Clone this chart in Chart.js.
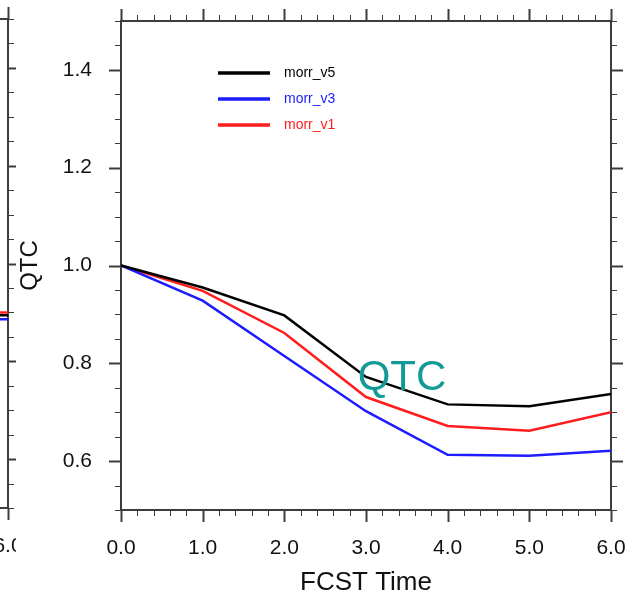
<!DOCTYPE html>
<html><head><meta charset="utf-8">
<script src="https://cdn.jsdelivr.net/npm/chart.js@4"></script>
<style>
html,body{margin:0;padding:0;background:#fff;overflow:hidden;width:638px;height:599px;position:relative;}
canvas{position:absolute;}
#leftwrap{position:absolute;left:0;top:0;width:16px;height:599px;overflow:hidden;}
#main{left:0;top:0;}
#left{left:-603px;top:-2px;}
</style></head><body>
<div id="leftwrap"><canvas id="left" width="638" height="599"></canvas></div>
<canvas id="main" width="638" height="599"></canvas>
<script>
// ---- data ----
const fcstTimes = [0, 1, 2, 3, 4, 5, 6];
const seriesNames = ['morr_v5', 'morr_v3', 'morr_v1'];
const seriesColors = ['#000000', '#1c1cff', '#ff1c1c'];
const morr_v5 = [1.0, 0.955, 0.898, 0.772, 0.716, 0.712, 0.737];
const morr_v3 = [1.0, 0.928, 0.815, 0.702, 0.613, 0.611, 0.621];
const morr_v1 = [1.0, 0.948, 0.862, 0.731, 0.672, 0.662, 0.700];
// neighbouring panel, cut off at the left edge (only its final segment shows)
const left_v5 = [null, null, null, null, null, 0.894, 0.894];
const left_v3 = [null, null, null, null, null, 0.886, 0.886];
const left_v1 = [null, null, null, null, null, 0.900, 0.900];
const xTickLabels = [0, 1, 2, 3, 4, 5, 6];
const yTickLabels = [0.6, 0.8, 1.0, 1.2, 1.4];
const yMin = 0.5, yMax = 1.5, xMin = 0, xMax = 6;
const yMinorStep = 0.05, xMinorStep = 0.2;
const overlayText = 'QTC';
const yTitle = 'QTC';
const xTitle = 'FCST Time';

const FONT = "'Liberation Sans', Arial, Helvetica, sans-serif";

function line(ctx, x0, y0, x1, y1) { ctx.beginPath(); ctx.moveTo(x0, y0); ctx.lineTo(x1, y1); ctx.stroke(); }

const framePlugin = {
  id: 'frame',
  beforeDatasetsDraw(chart) {
    const { ctx, chartArea: a, scales: { x, y } } = chart;
    ctx.save();
    ctx.strokeStyle = '#3c3c3c';
    ctx.lineCap = 'butt';
    const ny = Math.round((yMax - yMin) / yMinorStep);
    for (let i = 0; i <= ny; i++) {
      const v = yMin + i * yMinorStep;
      const major = yTickLabels.some(t => Math.abs(t - v) < 1e-6);
      const py = Math.round(y.getPixelForValue(v)) + 0.5;
      const len = major ? 12 : 6;
      ctx.lineWidth = major ? 2 : 1;
      line(ctx, a.left - len, py, a.left, py);
      line(ctx, a.right, py, a.right + len, py);
    }
    const nx = Math.round((xMax - xMin) / xMinorStep);
    for (let i = 0; i <= nx; i++) {
      const v = xMin + i * xMinorStep;
      const major = xTickLabels.some(t => Math.abs(t - v) < 1e-6);
      const px = Math.round(x.getPixelForValue(v)) + 0.5;
      const len = major ? 12 : 6;
      ctx.lineWidth = major ? 2 : 1;
      line(ctx, px, a.bottom, px, a.bottom + len);
      line(ctx, px, a.top - len, px, a.top);
    }
    ctx.lineWidth = 2;
    ctx.strokeRect(a.left, a.top, a.right - a.left, a.bottom - a.top);
    ctx.restore();
  },
  afterDatasetsDraw(chart, args, opts) {
    if (!opts || !opts.decorate) return;
    const { ctx, chartArea: a } = chart;
    ctx.save();
    chart.data.datasets.forEach((ds, i) => {
      const yy = a.top + 52 + i * 26;
      ctx.strokeStyle = ds.borderColor;
      ctx.lineWidth = 3.5;
      line(ctx, a.left + 97, yy, a.left + 149, yy);
      ctx.fillStyle = ds.borderColor;
      ctx.font = '14px ' + FONT;
      ctx.textAlign = 'left';
      ctx.textBaseline = 'middle';
      ctx.fillText(ds.label, a.left + 163, yy);
    });
    ctx.fillStyle = '#119a97';
    ctx.font = '42px ' + FONT;
    ctx.textAlign = 'center';
    ctx.textBaseline = 'middle';
    ctx.fillText(overlayText, a.left + 281, a.top + 357);
    ctx.restore();
  }
};

function toPoints(arr) { return fcstTimes.map((t, i) => ({ x: t, y: arr[i] })); }

function makeChart(id, arrays, decorate) {
  const datasets = arrays.map((arr, i) => ({
    label: seriesNames[i],
    data: toPoints(arr),
    borderColor: seriesColors[i],
    backgroundColor: seriesColors[i],
    borderWidth: 2.5,
    pointRadius: 0,
    tension: 0,
    fill: false,
    spanGaps: false
  }));
  return new Chart(document.getElementById(id), {
    type: 'line',
    data: { datasets },
    options: {
      responsive: false,
      animation: false,
      devicePixelRatio: 1,
      layout: { padding: { top: 21, right: 27, left: 0, bottom: 0 } },
      plugins: { legend: { display: false }, tooltip: { enabled: false }, frame: { decorate } },
      scales: {
        x: {
          type: 'linear', min: xMin, max: xMax,
          grid: { display: false, drawTicks: false }, border: { display: false },
          afterBuildTicks: s => { s.ticks = xTickLabels.map(v => ({ value: v })); },
          afterFit: s => { s.height = 89; s.paddingLeft = 0; s.paddingRight = 0; s.paddingTop = 0; s.paddingBottom = 0; },
          ticks: { padding: 26, color: '#111', autoSkip: false, maxRotation: 0,
                   font: { size: 21, family: FONT }, callback: v => Number(v).toFixed(1) },
          title: { display: true, text: xTitle, color: '#111',
                   font: { size: 26, family: FONT }, padding: { top: 0, bottom: 1 } }
        },
        y: {
          type: 'linear', min: yMin, max: yMax,
          grid: { display: false, drawTicks: false }, border: { display: false },
          afterBuildTicks: s => { s.ticks = yTickLabels.map(v => ({ value: v })); },
          afterFit: s => { s.width = 121; s.paddingLeft = 0; s.paddingRight = 0; s.paddingTop = 0; s.paddingBottom = 0; },
          ticks: { padding: 29, color: '#111', autoSkip: false,
                   font: { size: 21, family: FONT }, callback: v => Number(v).toFixed(1) },
          title: { display: true, text: yTitle, color: '#111',
                   font: { size: 24, family: FONT }, padding: { top: 16, bottom: 0 } }
        }
      }
    },
    plugins: [framePlugin]
  });
}

makeChart('left', [left_v5, left_v3, left_v1], false);
makeChart('main', [morr_v5, morr_v3, morr_v1], true);
</script>
</body></html>
